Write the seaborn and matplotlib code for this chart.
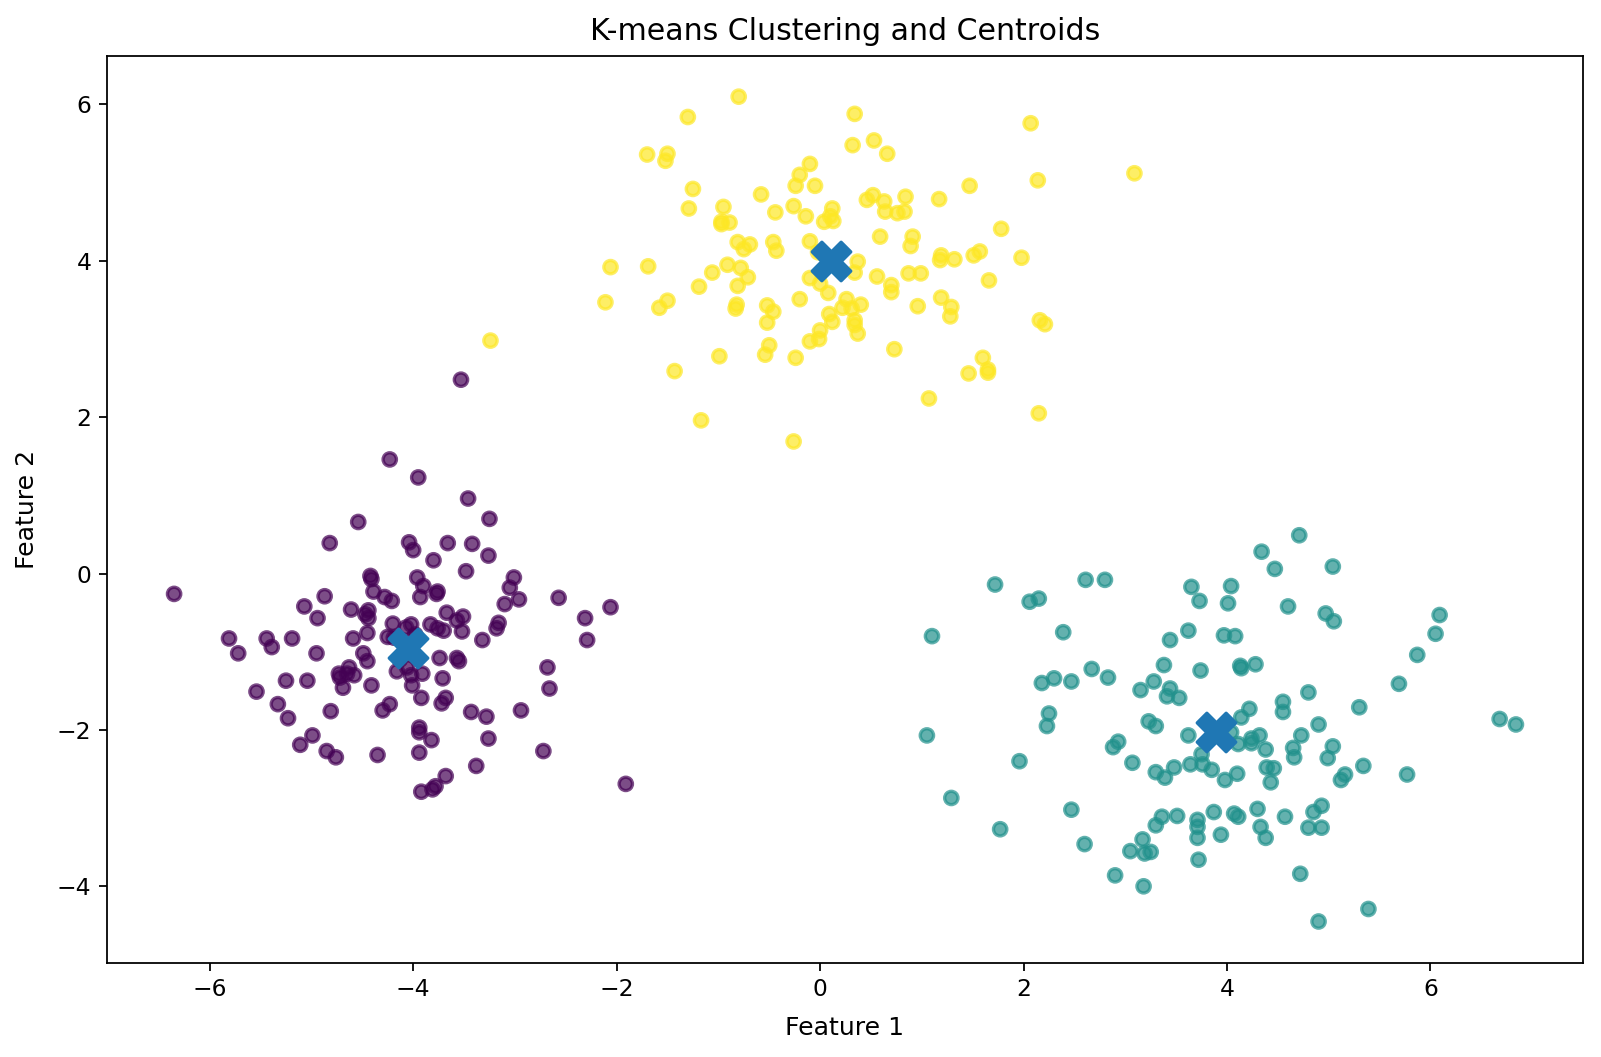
import numpy as np
import pandas as pd
import matplotlib
matplotlib.use("Agg")
import matplotlib.pyplot as plt
import seaborn as sns

# Cluster 0 (purple)
c0_x = [-6.35, -5.81, -5.72, -5.44, -5.39, -5.54, -5.33, -5.25, -5.19, -5.07,
        -5.23, -5.11, -4.99, -5.04, -4.95, -4.94, -4.87, -4.81, -4.85, -4.76,
        -4.82, -4.73, -4.72, -4.69, -4.65, -4.63, -4.61, -4.59, -4.58, -4.54,
        -4.49, -4.45, -4.45, -4.47, -4.44, -4.42, -4.41, -4.44, -4.41, -4.39,
        -4.35, -4.30, -4.28, -4.25, -4.23, -4.23, -4.21, -4.20, -4.19, -4.16,
        -4.13, -4.07, -4.06, -4.04, -4.02, -4.02, -4.00, -4.01, -3.98, -3.96,
        -3.95, -3.94, -3.94, -3.94, -3.93, -3.91, -3.92, -3.92, -3.90, -3.83,
        -3.82, -3.81, -3.80, -3.78, -3.77, -3.76, -3.76, -3.74, -3.72, -3.71,
        -3.70, -3.68, -3.68, -3.67, -3.66, -3.57, -3.57, -3.55, -3.52, -3.51,
        -3.48, -3.46, -3.43, -3.42, -3.38, -3.32, -3.28, -3.26, -3.25, -3.26,
        -3.18, -3.16, -3.10, -3.05, -3.01, -2.96, -2.94, -2.72, -2.68, -2.66,
        -2.57, -2.31, -2.29, -2.06, -1.91, -3.53]
c0_y = [-0.26, -0.83, -1.02, -0.83, -0.94, -1.51, -1.67, -1.37, -0.83, -0.42,
        -1.85, -2.19, -2.07, -1.37, -1.02, -0.57, -0.29, -1.76, -2.27, -2.35,
        0.39, -1.28, -1.33, -1.46, -1.28, -1.20, -0.46, -0.83, -1.30, 0.66,
        -1.02, -0.76, -1.12, -0.52, -0.47, -0.03, -0.07, -0.57, -1.43, -0.23,
        -2.32, -1.75, -0.30, -0.81, 1.46, -1.67, -0.35, -0.64, -0.82, -1.25,
        -1.10, -0.69, -1.20, 0.40, -1.30, -0.65, 0.30, -1.43, -0.78, -0.05,
        1.23, -2.03, -1.97, -2.29, -0.30, -1.28, -1.59, -2.79, -0.16, -0.65,
        -2.13, -2.76, 0.17, -2.72, -0.26, -0.70, -0.23, -1.08, -1.66, -1.34,
        -0.73, -2.59, -1.59, -0.50, 0.39, -0.60, -1.08, -1.12, -0.74, -0.55,
        0.03, 0.96, -1.77, 0.38, -2.46, -0.85, -1.83, 0.23, 0.70, -2.11,
        -0.70, -0.63, -0.39, -0.18, -0.05, -0.33, -1.75, -2.27, -1.20, -1.47,
        -0.31, -0.57, -0.85, -0.43, -2.69, 2.48]

# Cluster 1 (teal)
c1_x = [1.72, 2.06, 2.15, 2.61, 2.80, 3.65, 3.73, 1.10, 2.39, 3.44,
        3.62, 3.38, 3.74, 2.67, 2.83, 2.18, 2.30, 2.47, 3.15, 3.28,
        3.44, 3.41, 3.53,
        4.71, 4.34, 4.47, 5.04, 4.04, 4.01, 4.60, 4.97, 5.05, 6.09,
        6.05, 5.87, 3.97, 4.08, 4.13, 4.14, 4.28, 5.69, 4.80, 4.22,
        4.55, 4.55, 5.30,
        2.25, 2.23, 1.05, 1.96, 3.23, 3.30, 3.62, 2.93, 2.88, 3.07,
        3.30, 3.39, 3.48, 3.64, 1.29, 1.77, 2.47, 3.36, 3.51, 3.71,
        3.71, 3.71, 3.30, 3.17, 2.60, 3.05, 3.19, 3.25, 3.72, 2.90,
        3.18,
        4.14, 4.90, 4.04, 4.32, 4.24, 4.24, 4.11, 4.73, 4.38, 4.65,
        4.66, 5.04, 4.99, 3.75, 3.76, 3.85, 3.98, 4.10, 4.39, 4.46,
        4.43, 5.34, 5.12, 5.16, 5.77, 3.87, 3.94, 4.07, 4.11, 4.30,
        4.33, 4.38, 4.57, 4.85, 4.93, 4.80, 4.93, 4.72, 5.39, 4.90,
        6.68, 6.84]
c1_y = [-0.14, -0.36, -0.32, -0.08, -0.08, -0.17, -0.35, -0.80, -0.75, -0.85,
        -0.73, -1.17, -1.24, -1.22, -1.33, -1.40, -1.34, -1.38, -1.49, -1.38,
        -1.47, -1.57, -1.59,
        0.49, 0.28, 0.06, 0.09, -0.16, -0.38, -0.42, -0.51, -0.61, -0.53,
        -0.77, -1.04, -0.79, -0.80, -1.18, -1.21, -1.16, -1.41, -1.52, -1.73,
        -1.64, -1.77, -1.71,
        -1.79, -1.95, -2.07, -2.40, -1.89, -1.95, -2.07, -2.15, -2.22, -2.42,
        -2.54, -2.61, -2.48, -2.44, -2.87, -3.27, -3.02, -3.11, -3.10, -3.15,
        -3.24, -3.38, -3.22, -3.40, -3.46, -3.55, -3.58, -3.56, -3.66, -3.86,
        -4.00,
        -1.84, -1.93, -2.03, -2.07, -2.11, -2.17, -2.18, -2.07, -2.25, -2.23,
        -2.35, -2.21, -2.36, -2.31, -2.44, -2.51, -2.64, -2.56, -2.48, -2.49,
        -2.67, -2.46, -2.64, -2.57, -2.57, -3.05, -3.34, -3.07, -3.11, -3.01,
        -3.24, -3.38, -3.11, -3.05, -2.97, -3.25, -3.25, -3.84, -4.29, -4.45,
        -1.86, -1.93]

# Cluster 2 (yellow)
c2_x = [-0.80, -1.30, 0.34, 0.32, -1.70, -1.50, -1.52, -0.10, -0.20, -0.24,
        -0.05, -1.25, -0.58, -1.29, -0.95, -0.44, -0.26, -0.14, 0.12, 0.10,
        0.13, 0.04, -0.97, -0.89, -0.97, -0.10, -0.81, -0.69, -0.75, -0.46,
        -0.43, -2.06, -1.69, -1.06, -0.91, -0.78, 0.37, -0.02,
        2.07, 0.53, 0.66, 3.09, 2.14, 1.47, 0.52, 0.46, 0.63, 0.84,
        1.17, 0.64, 0.76, 0.83, 0.59, 0.91, 0.89, 1.78, 1.19, 1.18,
        1.32, 1.51, 1.57, 1.98, 0.87, 0.99, 0.56,
        -0.71, -0.10, 0.00, 0.34, -1.19, -0.81, -2.11, -1.50, -1.58, -0.82,
        -0.83, -0.52, -0.46, -0.52, -0.20, 0.08, 0.26, 0.22, 0.31, 0.40,
        0.09, 0.12, 0.34, 0.34, 0.37, 0.00, -0.01, -0.10, -0.50, -0.54,
        -0.24, -0.99, -1.43, -1.17, -0.26, -3.24,
        1.66, 0.70, 0.70, 1.19, 0.96, 1.29, 1.28, 2.16, 2.21, 0.73,
        1.60, 1.65, 1.65, 1.46, 1.07, 2.15]
c2_y = [6.10, 5.84, 5.88, 5.48, 5.36, 5.37, 5.28, 5.24, 5.10, 4.96,
        4.96, 4.92, 4.85, 4.67, 4.69, 4.62, 4.70, 4.57, 4.67, 4.57,
        4.51, 4.50, 4.50, 4.49, 4.47, 4.25, 4.24, 4.21, 4.15, 4.24,
        4.13, 3.92, 3.93, 3.85, 3.95, 3.91, 3.99, 4.11,
        5.76, 5.54, 5.37, 5.12, 5.03, 4.96, 4.84, 4.78, 4.76, 4.82,
        4.79, 4.63, 4.61, 4.63, 4.31, 4.31, 4.19, 4.41, 4.07, 4.01,
        4.02, 4.07, 4.12, 4.04, 3.84, 3.84, 3.80,
        3.79, 3.78, 3.71, 3.85, 3.67, 3.68, 3.47, 3.49, 3.40, 3.44,
        3.39, 3.43, 3.35, 3.21, 3.51, 3.59, 3.51, 3.40, 3.39, 3.44,
        3.32, 3.22, 3.24, 3.18, 3.07, 3.11, 3.00, 2.97, 2.92, 2.80,
        2.76, 2.78, 2.59, 1.96, 1.69, 2.98,
        3.75, 3.69, 3.60, 3.53, 3.42, 3.41, 3.29, 3.24, 3.19, 2.87,
        2.76, 2.61, 2.57, 2.56, 2.24, 2.05]

# Centroids
centroid_x = [-4.05, 3.89, 0.11]
centroid_y = [-0.95, -2.02, 4.00]

cluster_colors = {0: "#440154", 1: "#21918c", 2: "#fde725"}

df = pd.DataFrame({
    "x": c0_x + c1_x + c2_x,
    "y": c0_y + c1_y + c2_y,
    "cluster": [0] * len(c0_x) + [1] * len(c1_x) + [2] * len(c2_x),
})
cent = pd.DataFrame({"x": centroid_x, "y": centroid_y})

fig = plt.figure(figsize=(16.01 / 1.6, 10.57 / 1.6), dpi=160)
ax = fig.add_axes([0.0668, 0.089, 0.9888 - 0.0668, 0.947 - 0.089])

sns.scatterplot(data=df, x="x", y="y", hue="cluster", palette=cluster_colors,
                s=36, alpha=0.7, edgecolor="face", linewidth=1.5,
                legend=False, ax=ax)
sns.scatterplot(data=cent, x="x", y="y", marker="X", s=300,
                color="#1f77b4", edgecolor="#1f77b4", linewidth=1.5,
                legend=False, ax=ax, zorder=3)

ax.set_title("K-means Clustering and Centroids", fontsize=13.5, pad=7)
ax.set_xlabel("Feature 1", fontsize=11.3, labelpad=6.5)
ax.set_ylabel("Feature 2", fontsize=11.3, labelpad=8)
ax.set_xticks([-6, -4, -2, 0, 2, 4, 6])
ax.set_yticks([-4, -2, 0, 2, 4, 6])
ax.tick_params(labelsize=10.5)
ax.set_xlim(-7.01, 7.50)
ax.set_ylim(-4.98, 6.62)

fig.savefig("out.png", dpi=160)
